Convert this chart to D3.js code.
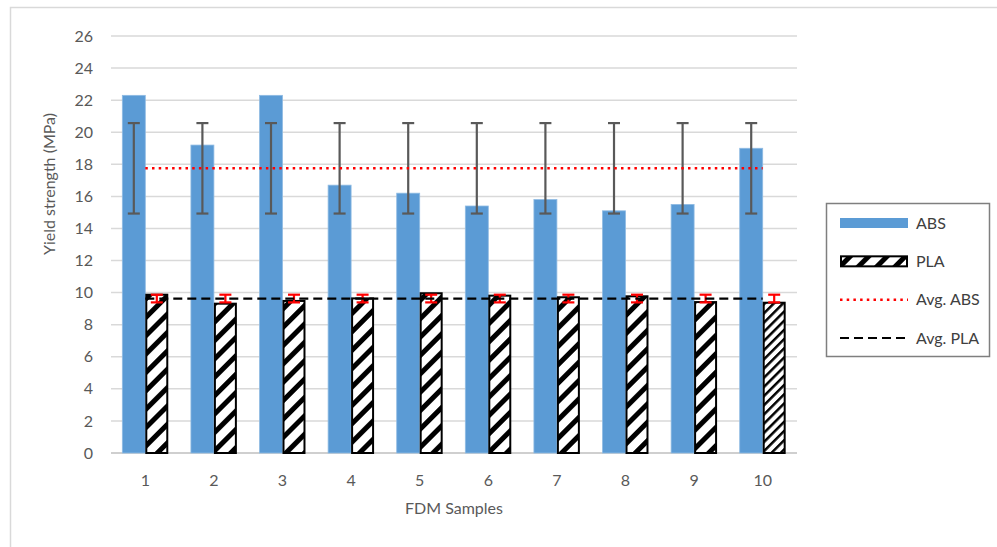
<!DOCTYPE html>
<html>
<head>
<meta charset="utf-8">
<script src="https://cdn.jsdelivr.net/npm/d3@7.9.0/dist/d3.min.js"></script>
<style>
  body { margin: 0; background: #fff; }
  text { font-family: Lato, "Open Sans", sans-serif; fill: #595959; }
</style>
</head>
<body>
<svg id="chart" width="997" height="547"></svg>
<script>
// Data
const categories = ["1", "2", "3", "4", "5", "6", "7", "8", "9", "10"];
const absValues = [22.3, 19.2, 22.3, 16.7, 16.2, 15.4, 15.8, 15.1, 15.5, 19.0];
const plaValues = [9.87, 9.31, 9.48, 9.64, 9.96, 9.81, 9.71, 9.77, 9.41, 9.37];
const absAvg = 17.75;
const plaAvg = 9.63;
const absError = 2.82;
const plaError = 0.24;
const yTicks = [0, 2, 4, 6, 8, 10, 12, 14, 16, 18, 20, 22, 24, 26];
const legendLabels = ["ABS", "PLA", "Avg. ABS", "Avg. PLA"];

const svg = d3.select("#chart");

// outer chart frame (runs off right/bottom edge)
svg.append("rect")
  .attr("x", 10.5).attr("y", 7.5)
  .attr("width", 1100).attr("height", 700)
  .attr("fill", "none").attr("stroke", "#d9d9d9").attr("stroke-width", 1.5);

// stripe patterns for PLA
const defs = svg.append("defs");
function stripes(id, size, band) {
  const p = defs.append("pattern")
    .attr("id", id)
    .attr("patternUnits", "userSpaceOnUse")
    .attr("width", size).attr("height", size)
    .attr("patternTransform", "rotate(45)");
  p.append("rect").attr("width", size).attr("height", size).attr("fill", "#fff");
  p.append("rect").attr("width", band).attr("height", size).attr("fill", "#000");
}
stripes("pla", 13, 5);
stripes("plaFine", 6.5, 2.5);

const x = d3.scaleBand().domain(categories).range([111, 797]);
const y = d3.scaleLinear().domain([0, 26]).range([453, 36]);
const barW = x.step() * 0.335;
const mid = c => x(c) + x.bandwidth() / 2;

// gridlines
svg.append("g")
  .selectAll("line")
  .data(yTicks)
  .join("line")
  .attr("x1", 111).attr("x2", 797)
  .attr("y1", d => y(d)).attr("y2", d => y(d))
  .attr("stroke", d => d === 0 ? "#bfbfbf" : "#d9d9d9")
  .attr("stroke-width", 1.5);

// y axis labels
svg.append("g")
  .selectAll("text")
  .data(yTicks)
  .join("text")
  .attr("x", 93).attr("y", d => y(d))
  .attr("dy", "0.35em")
  .attr("text-anchor", "end")
  .attr("font-size", 16)
  .text(d => d);

// x axis labels
svg.append("g")
  .selectAll("text")
  .data(categories)
  .join("text")
  .attr("x", d => mid(d)).attr("y", 480)
  .attr("dy", "0.35em")
  .attr("text-anchor", "middle")
  .attr("font-size", 16)
  .text(d => d);

// axis titles
svg.append("text")
  .attr("x", 454).attr("y", 508).attr("dy", "0.35em")
  .attr("text-anchor", "middle").attr("font-size", 16)
  .text("FDM Samples");
svg.append("text")
  .attr("transform", "translate(49,184) rotate(-90)")
  .attr("dy", "0.35em")
  .attr("text-anchor", "middle").attr("font-size", 16)
  .text("Yield strength (MPa)");

// ABS bars
svg.append("g")
  .selectAll("rect")
  .data(absValues)
  .join("rect")
  .attr("x", (d, i) => mid(categories[i]) - barW)
  .attr("y", d => y(d))
  .attr("width", barW)
  .attr("height", d => y(0) - y(d))
  .attr("fill", "#5b9bd5")
  .attr("stroke", "#8fbbe3").attr("stroke-width", 0.8);

// PLA bars
svg.append("g")
  .selectAll("rect")
  .data(plaValues)
  .join("rect")
  .attr("x", (d, i) => mid(categories[i]) + 1)
  .attr("y", d => y(d))
  .attr("width", barW - 2)
  .attr("height", d => y(0) - y(d))
  .attr("fill", (d, i) => i === categories.length - 1 ? "url(#plaFine)" : "url(#pla)")
  .attr("stroke", "#000").attr("stroke-width", 2);

// error bars
function errorBars(values, center, err, offset, color, width) {
  const g = svg.append("g").attr("stroke", color).attr("stroke-width", width);
  values.forEach((v, i) => {
    const cx = mid(categories[i]) + offset;
    g.append("line").attr("x1", cx).attr("x2", cx).attr("y1", y(center - err)).attr("y2", y(center + err));
    g.append("line").attr("x1", cx - 6).attr("x2", cx + 6).attr("y1", y(center - err)).attr("y2", y(center - err));
    g.append("line").attr("x1", cx - 6).attr("x2", cx + 6).attr("y1", y(center + err)).attr("y2", y(center + err));
  });
}
errorBars(absValues, absAvg, absError, -barW / 2, "#595959", 2.2);
errorBars(plaValues, plaAvg, plaError, barW / 2, "#ff0000", 2.2);

// average lines
const line = d3.line().x(d => mid(d[0])).y(d => y(d[1]));
svg.append("path")
  .attr("d", line(categories.map(c => [c, absAvg])))
  .attr("fill", "none").attr("stroke", "#ff0000")
  .attr("stroke-width", 2.5).attr("stroke-dasharray", "2.5,4.2");
svg.append("path")
  .attr("d", line(categories.map(c => [c, plaAvg])))
  .attr("fill", "none").attr("stroke", "#000")
  .attr("stroke-width", 2.2).attr("stroke-dasharray", "9,5");

// legend
const lg = svg.append("g");
lg.append("rect")
  .attr("x", 826.5).attr("y", 203.5).attr("width", 163).attr("height", 153)
  .attr("fill", "#fff").attr("stroke", "#7f7f7f").attr("stroke-width", 1.5);
const ly = d3.scalePoint().domain(legendLabels).range([223, 338]);
lg.append("rect").attr("x", 840).attr("y", ly("ABS") - 5).attr("width", 68).attr("height", 10)
  .attr("fill", "#5b9bd5");
lg.append("rect").attr("x", 841).attr("y", ly("PLA") - 5).attr("width", 66).attr("height", 10)
  .attr("fill", "url(#pla)").attr("stroke", "#000").attr("stroke-width", 2);
lg.append("line").attr("x1", 840).attr("x2", 908).attr("y1", ly("Avg. ABS")).attr("y2", ly("Avg. ABS"))
  .attr("stroke", "#ff0000").attr("stroke-width", 2.5).attr("stroke-dasharray", "2.5,4.2");
lg.append("line").attr("x1", 840).attr("x2", 908).attr("y1", ly("Avg. PLA")).attr("y2", ly("Avg. PLA"))
  .attr("stroke", "#000").attr("stroke-width", 2.2).attr("stroke-dasharray", "9,5");
lg.selectAll("text.lab")
  .data(legendLabels)
  .join("text")
  .attr("class", "lab")
  .attr("x", 916).attr("y", d => ly(d))
  .attr("dy", "0.35em")
  .attr("font-size", 16)
  .style("fill", "#404040")
  .text(d => d);
</script>
</body>
</html>
